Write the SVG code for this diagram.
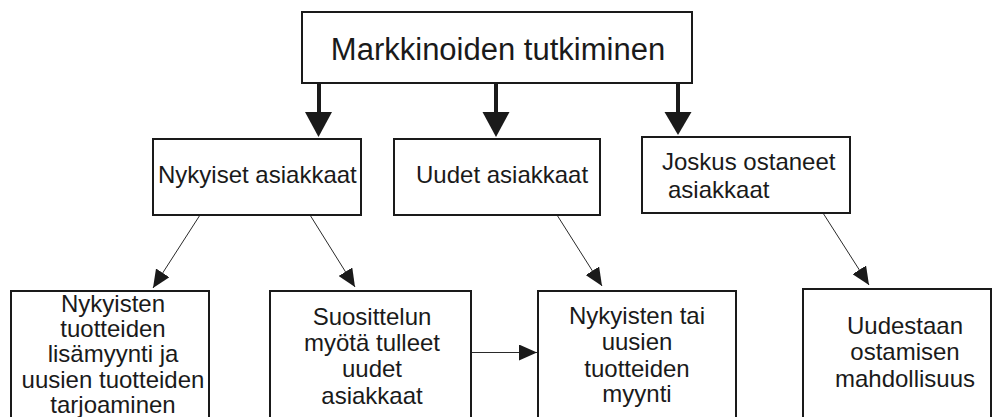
<svg xmlns="http://www.w3.org/2000/svg" width="992" height="417" viewBox="0 0 992 417">
<style>
.box{fill:#fff;stroke:#1a1a1a;stroke-width:2}
.t{font-family:"Liberation Sans",Arial,sans-serif;font-size:24px;fill:#1a1a1a}
.c{text-anchor:middle}
.thin{stroke:#2a2a2a;stroke-width:1;fill:none}
.thick{stroke:#1a1a1a;stroke-width:4;fill:none}
</style>
<defs>
<marker id="ah" viewBox="0 0 18 16" refX="18" refY="8" markerWidth="18" markerHeight="16" markerUnits="userSpaceOnUse" orient="auto">
<path d="M0,0 L18,8 L0,16 z" fill="#1a1a1a"/>
</marker>
</defs>
<rect width="992" height="417" fill="#fff"/>
<g id="connectors">
<line class="thick" x1="319" y1="83" x2="319" y2="113"/>
<polygon points="305,112 332,112 318.5,137" fill="#1a1a1a"/>
<line class="thick" x1="496" y1="83" x2="496" y2="113"/>
<polygon points="482.5,112 509.5,112 496,137" fill="#1a1a1a"/>
<line class="thick" x1="678" y1="83" x2="678" y2="113"/>
<polygon points="664.5,112 691.5,112 678,135" fill="#1a1a1a"/>
<line class="thin" x1="200" y1="215" x2="153" y2="288" marker-end="url(#ah)"/>
<line class="thin" x1="310" y1="215" x2="355" y2="287" marker-end="url(#ah)"/>
<line class="thin" x1="557" y1="215" x2="602" y2="286" marker-end="url(#ah)"/>
<line class="thin" x1="823" y1="213" x2="869" y2="285" marker-end="url(#ah)"/>
<line class="thin" x1="471" y1="352.5" x2="537" y2="352.5" marker-end="url(#ah)"/>
</g>
<g id="n-top">
<rect class="box" x="302" y="12" width="390" height="71"/>
<text class="t c" x="498" y="60" style="font-size:31px">Markkinoiden tutkiminen</text>
</g>
<g id="n-nykyiset">
<rect class="box" x="153" y="139" width="208" height="76"/>
<text class="t" x="158" y="183">Nykyiset asiakkaat</text>
</g>
<g id="n-uudet">
<rect class="box" x="394" y="139" width="206" height="76"/>
<text class="t" x="416" y="183">Uudet asiakkaat</text>
</g>
<g id="n-joskus">
<rect class="box" x="642" y="137" width="208" height="76"/>
<text class="t" x="662" y="170">Joskus ostaneet</text>
<text class="t" x="668" y="198">asiakkaat</text>
</g>
<g id="n-lisamyynti">
<rect class="box" x="11" y="291" width="198" height="140"/>
<text class="t c" x="113" y="312">Nykyisten</text>
<text class="t c" x="113" y="337">tuotteiden</text>
<text class="t c" x="113" y="362">lisämyynti ja</text>
<text class="t c" x="113" y="388">uusien tuotteiden</text>
<text class="t c" x="113" y="413">tarjoaminen</text>
</g>
<g id="n-suosittelu">
<rect class="box" x="270" y="291" width="201" height="140"/>
<text class="t c" x="372" y="325">Suosittelun</text>
<text class="t c" x="372" y="351">myötä tulleet</text>
<text class="t c" x="372" y="377">uudet</text>
<text class="t c" x="372" y="404">asiakkaat</text>
</g>
<g id="n-myynti">
<rect class="box" x="538" y="291" width="198" height="140"/>
<text class="t c" x="637" y="324">Nykyisten tai</text>
<text class="t c" x="637" y="350">uusien</text>
<text class="t c" x="637" y="377">tuotteiden</text>
<text class="t c" x="637" y="402">myynti</text>
</g>
<g id="n-uudestaan">
<rect class="box" x="803" y="289" width="188" height="140"/>
<text class="t c" x="905" y="334">Uudestaan</text>
<text class="t c" x="905" y="360">ostamisen</text>
<text class="t c" x="905" y="387">mahdollisuus</text>
</g>
</svg>
